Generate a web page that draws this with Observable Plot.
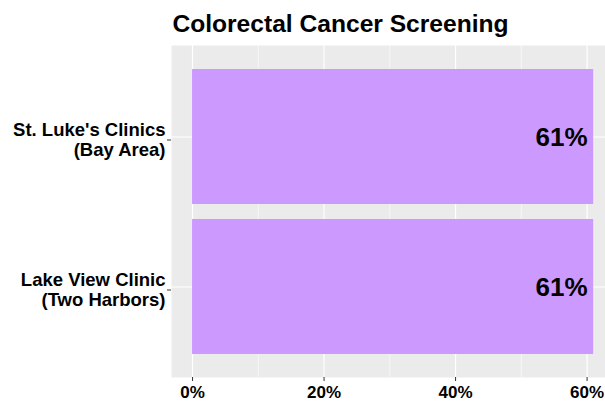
<!DOCTYPE html>
<html>
<head>
<meta charset="utf-8">
<script src="https://cdn.jsdelivr.net/npm/d3@7"></script>
<script src="https://cdn.jsdelivr.net/npm/@observablehq/plot@0.6"></script>
<style>
  body { margin: 0; background: white; }
</style>
</head>
<body>
<div id="chart"></div>
<script>
const title = "Colorectal Cancer Screening";
const categories = ["St. Luke's Clinics\n(Bay Area)", "Lake View Clinic\n(Two Harbors)"];
const values = [61, 61];
const valueLabels = ["61%", "61%"];
const xTicks = [0, 20, 40, 60];
const xMinorTicks = [10, 30, 50];

const data = categories.map((c, i) => ({category: c, value: values[i], label: valueLabels[i]}));

const chart = Plot.plot({
  width: 605,
  height: 401,
  marginTop: 45,
  marginBottom: 24,
  marginLeft: 171,
  marginRight: 0,
  style: {fontFamily: "'Liberation Sans', Arial, sans-serif", color: "black", background: "white"},
  x: {domain: [-3.2, 62.8]},
  y: {domain: categories, paddingInner: 0.1, paddingOuter: 0.15},
  marks: [
    Plot.frame({fill: "#EBEBEB", stroke: null}),
    Plot.gridX(xMinorTicks, {stroke: "white", strokeOpacity: 1, strokeWidth: 0.6}),
    Plot.gridX(xTicks, {stroke: "white", strokeOpacity: 1, strokeWidth: 1.2}),
    Plot.gridY({stroke: "white", strokeOpacity: 1, strokeWidth: 1.2}),
    Plot.barX(data, {x: "value", y: "category", fill: "#CC99FF"}),
    Plot.text(data, {x: "value", y: "category", text: "label", textAnchor: "end", dx: -6, dy: 1, fontSize: 26, fontWeight: "bold", fill: "black"}),
    Plot.axisX(xTicks, {tickFormat: d => d + "%", tickSize: 4, tickPadding: 4, fontSize: 17, fontWeight: "bold", stroke: "#333", fill: "black", label: null}),
    Plot.axisY({tickSize: 4, tickPadding: 2, fontSize: 18.5, fontWeight: "bold", stroke: "#333", fill: "black", label: null, lineHeight: 1.08, dy: 3}),
    Plot.text([title], {text: d => d, frameAnchor: "top-left", lineAnchor: "middle", textAnchor: "middle", dx: 169, dy: -21, fontSize: 24.6, fontWeight: "bold", fill: "black"})
  ]
});
document.getElementById("chart").appendChild(chart);
</script>
</body>
</html>
